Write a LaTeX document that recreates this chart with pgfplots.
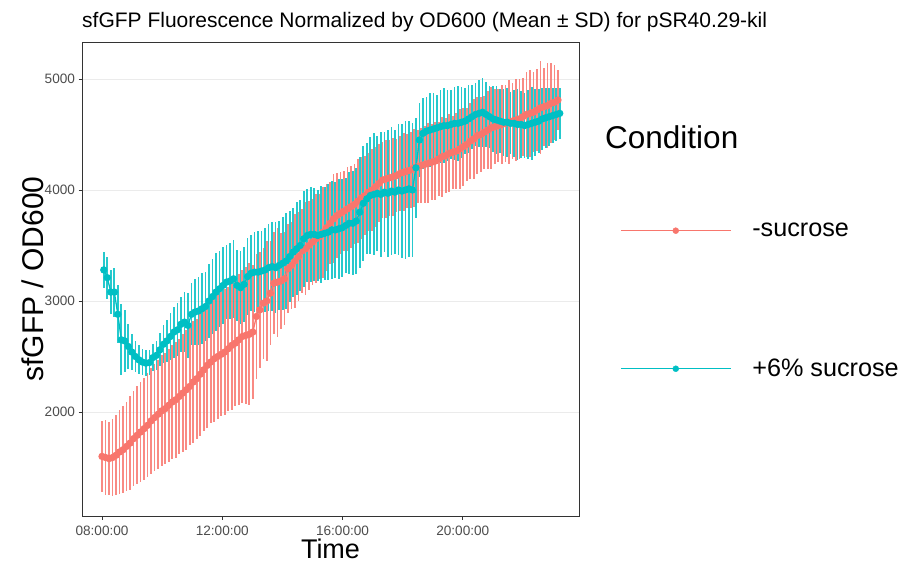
\documentclass[border=0pt]{standalone}
\usepackage{pgfplots}
\pgfplotsset{compat=1.18}
\usepackage{pgfplotstable}
\usepackage{fontspec}
\setmainfont{Liberation Sans}

\definecolor{cred}{HTML}{F8766D}
\definecolor{ccyan}{HTML}{00BFC4}
\definecolor{gridgray}{HTML}{EBEBEB}
\definecolor{framegray}{HTML}{333333}
\definecolor{tickgray}{HTML}{4D4D4D}

% time in minutes after 08:00:00, mean and SD of sfGFP/OD600
\pgfplotstableread{
t m s
0 1600 320
7 1590 340
14 1580 330
21 1590 350
28 1610 360
35 1640 380
42 1660 390
49 1690 400
56 1720 420
63 1760 430
70 1790 440
77 1820 450
84 1850 460
91 1880 470
98 1920 480
105 1950 480
112 1980 490
119 2010 500
126 2030 500
133 2060 510
140 2090 510
147 2110 520
154 2140 520
161 2170 530
168 2200 540
175 2230 530
182 2270 550
189 2300 540
196 2340 560
203 2380 550
210 2420 560
217 2450 550
224 2480 570
231 2500 560
238 2520 560
245 2540 570
252 2570 560
259 2600 580
266 2620 570
273 2650 590
280 2680 600
287 2690 620
294 2700 640
301 2720 600
308 2860 560
315 2920 520
322 2980 500
329 3000 540
336 3070 470
343 3160 460
350 3170 490
357 3180 430
364 3200 420
371 3290 400
378 3320 390
385 3360 420
392 3400 400
399 3450 380
406 3470 420
413 3500 400
420 3530 390
427 3560 400
434 3580 380
441 3620 410
448 3660 390
455 3700 370
462 3740 400
469 3770 380
476 3790 370
483 3810 360
490 3830 380
497 3850 370
504 3870 360
511 3900 380
518 3930 370
525 3950 360
532 3980 350
539 4000 370
546 4030 360
553 4060 350
560 4090 340
567 4100 350
574 4110 340
581 4120 350
588 4130 330
595 4150 340
602 4160 350
609 4170 330
616 4180 340
623 4200 350
630 4210 330
637 4220 340
644 4230 350
651 4240 360
658 4250 340
665 4260 350
672 4280 330
679 4300 360
686 4310 340
693 4330 350
700 4340 330
707 4350 340
714 4370 360
721 4390 350
728 4410 330
735 4440 340
742 4460 360
749 4490 350
756 4500 340
763 4520 330
770 4540 350
777 4560 370
784 4570 340
791 4580 330
798 4590 360
805 4600 350
812 4610 380
819 4620 340
826 4630 370
833 4640 360
840 4660 350
847 4680 380
854 4690 390
861 4700 360
868 4720 370
875 4740 420
882 4750 350
889 4760 380
896 4780 360
903 4790 340
910 4810 270
}\nosucrose

\pgfplotstableread{
t m s
3.5 3280 160
10.5 3210 190
17.5 3080 200
24.5 3080 220
31.5 2880 260
38.5 2650 320
45.5 2640 280
52.5 2590 200
59.5 2540 160
66.5 2500 140
73.5 2470 130
80.5 2450 120
87.5 2440 120
94.5 2445 110
101.5 2490 120
108.5 2510 130
115.5 2560 150
122.5 2610 170
129.5 2640 190
136.5 2680 210
143.5 2720 230
150.5 2740 240
157.5 2790 250
164.5 2810 270
171.5 2780 290
178.5 2880 280
185.5 2900 300
192.5 2910 310
199.5 2930 320
206.5 2950 310
213.5 3000 330
220.5 3040 340
227.5 3080 350
234.5 3110 340
241.5 3140 350
248.5 3170 330
255.5 3180 340
262.5 3200 350
269.5 3140 320
276.5 3120 330
283.5 3150 340
290.5 3220 350
297.5 3250 340
304.5 3260 360
311.5 3260 370
318.5 3270 360
325.5 3280 380
332.5 3300 390
339.5 3310 400
346.5 3300 410
353.5 3320 400
360.5 3340 420
367.5 3360 430
374.5 3400 410
381.5 3440 400
388.5 3470 420
395.5 3500 410
402.5 3560 430
409.5 3590 420
416.5 3600 430
423.5 3600 420
430.5 3590 410
437.5 3600 440
444.5 3610 420
451.5 3620 430
458.5 3640 440
465.5 3640 430
472.5 3650 450
479.5 3660 440
486.5 3680 430
493.5 3700 460
500.5 3700 470
507.5 3720 480
514.5 3800 500
521.5 3880 520
528.5 3920 500
535.5 3950 530
542.5 3960 550
549.5 3970 520
556.5 3960 560
563.5 3980 540
570.5 3970 570
577.5 3990 580
584.5 3980 560
591.5 4000 590
598.5 3990 600
605.5 4000 620
612.5 4010 610
619.5 4000 600
626.5 4200 450
633.5 4450 330
640.5 4510 320
647.5 4530 310
654.5 4540 330
661.5 4550 320
668.5 4560 300
675.5 4570 330
682.5 4580 340
689.5 4580 320
696.5 4590 310
703.5 4600 330
710.5 4600 340
717.5 4610 320
724.5 4620 300
731.5 4640 310
738.5 4660 290
745.5 4680 280
752.5 4690 300
759.5 4700 310
766.5 4680 290
773.5 4660 280
780.5 4640 300
787.5 4630 310
794.5 4620 290
801.5 4610 300
808.5 4610 310
815.5 4600 280
822.5 4600 300
829.5 4590 320
836.5 4590 300
843.5 4580 290
850.5 4590 310
857.5 4600 330
864.5 4610 300
871.5 4620 290
878.5 4640 280
885.5 4650 270
892.5 4660 260
899.5 4670 250
906.5 4680 240
913.5 4690 230
}\sucrose

\pgfplotsset{
  condkey/.style={legend image code/.code={%
    \draw[line width=1.1pt,##1] (0pt,0pt) -- (110pt,0pt);
    \fill[##1] (55pt,0pt) circle (3pt);}},
  sdbars/.style={only marks, mark=none, forget plot,
    error bars/.cd, y dir=both, y explicit, error mark=none,
    error bar style={line width=1.7pt, #1, opacity=0.85}},
  meanline/.style={#1, line width=1.3pt, mark=*, mark size=3pt,
    mark options={solid, draw=none, fill=#1}, forget plot},
}

\begin{document}
\begin{tikzpicture}[x=1pt,y=1pt]
\path[use as bounding box] (0,0) rectangle (901,563);
\begin{axis}[
  at={(82pt,47pt)}, anchor=south west,
  scale only axis, width=497pt, height=474pt,
  xmin=-40, xmax=952, ymin=1063, ymax=5333,
  xtick={0,240,480,720},
  xticklabels={08:00:00,12:00:00,16:00:00,20:00:00},
  ytick={2000,3000,4000,5000},
  /pgf/number format/assume math mode=true,
  /pgf/number format/set thousands separator={},
  ticklabel style={font=\fontsize{13.6}{16}\selectfont, text=tickgray},
  xticklabel style={yshift=-3pt},
  tick pos=left, tick align=outside,
  major tick length=3.5pt,
  tick style={draw=framegray, line width=0.9pt},
  axis line style={draw=framegray, line width=0.9pt},
  ymajorgrids, xmajorgrids=false,
  major grid style={draw=gridgray, line width=0.9pt},
  clip=true,
  legend style={at={(1.0825,0.6225)}, anchor=north west, draw=none, fill=none,
    inner sep=0pt, row sep=117pt,
    font=\fontsize{25.2}{30}\selectfont,
    /tikz/every odd column/.append style={column sep=19pt}},
  legend cell align=left,
]
\addplot[sdbars=cred] table[x=t, y=m, y error=s]{\nosucrose};
\addplot[sdbars=ccyan] table[x=t, y=m, y error=s]{\sucrose};
\addplot[meanline=cred] table[x=t, y=m]{\nosucrose};
\addplot[meanline=ccyan] table[x=t, y=m]{\sucrose};

\addlegendimage{condkey, cred}
\addlegendentry{-sucrose}
\addlegendimage{condkey, ccyan}
\addlegendentry{+6\% sucrose}
\end{axis}

\node[anchor=base west, inner sep=0pt, font=\fontsize{21}{25}\selectfont] at (82,535.5)
  {sfGFP Fluorescence Normalized by OD600 (Mean ± SD) for pSR40.29-kil};
\node[anchor=base, inner sep=0pt, font=\fontsize{27}{32}\selectfont] at (330.5,4.5) {Time};
\node[rotate=90, inner sep=0pt, font=\fontsize{30}{36}\selectfont] at (33,284) {sfGFP / OD600};
\node[anchor=base west, inner sep=0pt, font=\fontsize{31.5}{37}\selectfont] at (605,414) {Condition};
\end{tikzpicture}
\end{document}
